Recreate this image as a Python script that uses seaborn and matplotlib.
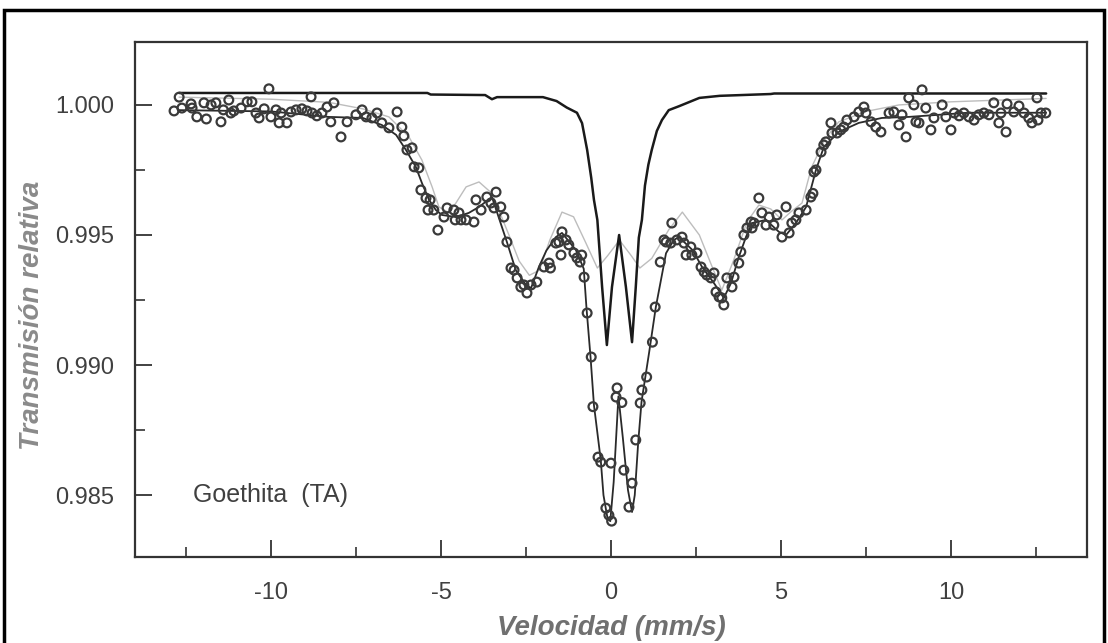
import numpy as np
import pandas as pd
import matplotlib
matplotlib.use("Agg")
import matplotlib.pyplot as plt
from matplotlib.patches import Rectangle
from matplotlib.ticker import MultipleLocator
import seaborn as sns

# Measured spectrum (velocity in mm/s, relative transmission)
vel_pts = [-12.85, -12.7, -12.62, -12.35, -12.32, -12.18, -11.97, -11.9, -11.76, -11.62,
           -11.47, -11.4, -11.24, -11.18, -11.09, -10.88, -10.7, -10.56, -10.44, -10.35,
           -10.2, -10.06, -10.0, -9.85, -9.76, -9.7, -9.53, -9.41, -9.26, -9.09,
           -8.94, -8.82, -8.79, -8.65, -8.5, -8.35, -8.24, -8.15, -7.94, -7.76,
           -7.5, -7.32, -7.2, -7.03, -6.88, -6.74, -6.53, -6.29, -6.15, -6.09,
           -6.0, -5.85, -5.79, -5.65, -5.59, -5.44, -5.38, -5.32, -5.21, -5.09,
           -4.91, -4.82, -4.62, -4.58, -4.47, -4.41, -4.26, -4.03, -3.97, -3.82,
           -3.65, -3.53, -3.44, -3.38, -3.24, -3.15, -3.06, -2.94, -2.85, -2.76,
           -2.65, -2.56, -2.47, -2.35, -2.18, -1.97, -1.82, -1.78, -1.62, -1.53,
           -1.47, -1.44, -1.32, -1.24, -1.09, -1.0, -0.91, -0.86, -0.79, -0.7,
           -0.58, -0.53, -0.38, -0.3, -0.15, -0.06, 0.0, 0.02, 0.15, 0.18,
           0.32, 0.38, 0.53, 0.62, 0.73, 0.86, 0.91, 1.05, 1.22, 1.3,
           1.45, 1.56, 1.62, 1.76, 1.79, 1.94, 2.09, 2.15, 2.21, 2.35,
           2.38, 2.53, 2.65, 2.74, 2.82, 2.94, 3.03, 3.09, 3.18, 3.26,
           3.32, 3.41, 3.56, 3.62, 3.76, 3.82, 3.91, 4.0, 4.12, 4.15,
           4.21, 4.35, 4.44, 4.56, 4.65, 4.79, 4.88, 5.03, 5.15, 5.24,
           5.32, 5.44, 5.53, 5.74, 5.88, 5.94, 5.97, 6.03, 6.18, 6.26,
           6.32, 6.47, 6.5, 6.65, 6.76, 6.85, 6.94, 7.15, 7.29, 7.44,
           7.5, 7.65, 7.79, 7.94, 8.18, 8.32, 8.47, 8.56, 8.68, 8.76,
           8.91, 8.97, 9.06, 9.15, 9.26, 9.41, 9.5, 9.74, 9.85, 10.0,
           10.1, 10.24, 10.38, 10.53, 10.68, 10.82, 10.97, 11.12, 11.26, 11.41,
           11.47, 11.62, 11.65, 11.85, 12.0, 12.15, 12.29, 12.38, 12.53, 12.56,
           12.65, 12.79]
trans_pts = [0.99977, 1.0003, 0.99988, 1.00004, 0.99988, 0.99954, 1.00008, 0.99946, 1.0, 1.00008,
             0.99935, 0.99981, 1.00019, 0.99969, 0.99977, 0.99988, 1.00012, 1.00012, 0.99969, 0.9995,
             0.99985, 1.00062, 0.99954, 0.99981, 0.99931, 0.99969, 0.99931, 0.99973, 0.99981, 0.99985,
             0.99977, 1.00031, 0.99969, 0.99958, 0.99969, 0.99992, 0.99935, 1.00008, 0.99877, 0.99935,
             0.99962, 0.99981, 0.99954, 0.9995, 0.99969, 0.99931, 0.99912, 0.99973, 0.99915, 0.99881,
             0.99827, 0.99835, 0.99762, 0.99758, 0.99673, 0.99642, 0.99596, 0.99635, 0.99596, 0.99519,
             0.99569, 0.99604, 0.99596, 0.99558, 0.99585, 0.99558, 0.99558, 0.9955, 0.99635, 0.99596,
             0.99646, 0.99623, 0.99604, 0.99665, 0.99608, 0.99569, 0.99473, 0.99373, 0.99365, 0.99335,
             0.993, 0.99308, 0.99277, 0.99308, 0.99319, 0.99377, 0.99392, 0.99373, 0.99469, 0.99473,
             0.99423, 0.99512, 0.99481, 0.99462, 0.99431, 0.99412, 0.99396, 0.99423, 0.99338, 0.992,
             0.99031, 0.9884, 0.98646, 0.98627, 0.9845, 0.98423, 0.98623, 0.9840, 0.98877, 0.98912,
             0.98856, 0.98596, 0.98454, 0.98546, 0.98712, 0.98854, 0.98904, 0.98954, 0.99088, 0.99223,
             0.99396, 0.99481, 0.99473, 0.99469, 0.99546, 0.99481, 0.99492, 0.99469, 0.99423, 0.99454,
             0.99423, 0.99431, 0.99377, 0.99358, 0.99346, 0.99335, 0.99354, 0.99281, 0.99262, 0.99258,
             0.99231, 0.99335, 0.993, 0.99338, 0.99392, 0.99435, 0.995, 0.99527, 0.9955, 0.99527,
             0.99546, 0.99642, 0.99585, 0.99538, 0.99569, 0.99538, 0.99577, 0.99492, 0.99608, 0.99508,
             0.99546, 0.99558, 0.99585, 0.99596, 0.99646, 0.9966, 0.99742, 0.9975, 0.99819, 0.99846,
             0.99858, 0.99931, 0.99892, 0.99892, 0.99904, 0.99915, 0.99942, 0.99954, 0.99973, 0.99992,
             0.99969, 0.99935, 0.99915, 0.99896, 0.99969, 0.99973, 0.99923, 0.99962, 0.99877, 1.00027,
             1.0, 0.99935, 0.99931, 1.00058, 0.99988, 0.99904, 0.9995, 1.0, 0.99954, 0.99904,
             0.99969, 0.99958, 0.99969, 0.99954, 0.99942, 0.99962, 0.99969, 0.99962, 1.00008, 0.99931,
             0.99969, 0.99896, 1.00004, 0.99973, 0.99996, 0.99969, 0.9995, 0.99931, 1.00027, 0.99942,
             0.99969, 0.99969]

# Total fitted spectrum
vel_fit = [-12.7, -10.0, -8.3, -7.3, -6.74, -6.32, -6.03, -5.74, -5.56, -5.35,
           -5.15, -4.97, -4.56, -4.18, -3.88, -3.5, -3.06, -2.8, -2.5, -2.35,
           -2.12, -1.9, -1.62, -1.44, -1.03, -0.8, -0.72, -0.6, -0.5, -0.3,
           -0.22, -0.1, -0.02, 0.08, 0.22, 0.35, 0.5, 0.62, 0.7, 0.8,
           0.9, 1.12, 1.32, 1.62, 1.85, 2.0, 2.4, 2.68, 3.03, 3.32,
           3.53, 3.76, 3.97, 4.15, 4.56, 4.94, 5.15, 5.44, 5.74, 6.03,
           6.26, 6.7, 7.29, 7.97, 8.76, 10.5, 12.8]
trans_fit = [0.9998, 0.99975, 0.99954, 0.9995, 0.99923, 0.99885, 0.99827, 0.99762, 0.997, 0.99635,
             0.99596, 0.99577, 0.99569, 0.99585, 0.99608, 0.99646, 0.99473, 0.99365, 0.99308, 0.99296,
             0.99377, 0.9944, 0.99492, 0.99508, 0.99442, 0.9937, 0.9922, 0.9903, 0.98846, 0.98635,
             0.9850, 0.9841, 0.9840, 0.9855, 0.9888, 0.9872, 0.9852, 0.98435, 0.9850, 0.9870,
             0.9886, 0.99046, 0.99223, 0.9943, 0.99481, 0.99492, 0.99442, 0.99377, 0.99315, 0.99258,
             0.99315, 0.99415, 0.99492, 0.99546, 0.99558, 0.99512, 0.995, 0.99546, 0.99608, 0.9975,
             0.99838, 0.99896, 0.99931, 0.9995, 0.99954, 0.9997, 0.9997]

# Component curve (light grey)
vel_comp = [-12.7, -10.0, -8.3, -7.3, -6.53, -5.94, -5.56, -5.26, -5.06, -4.76,
            -4.56, -4.26, -3.88, -3.5, -3.0, -2.7, -2.4, -2.1, -1.8, -1.44,
            -1.1, -0.74, -0.4, -0.1, 0.25, 0.6, 0.85, 1.2, 1.7, 2.1,
            2.6, 3.0, 3.26, 3.6, 4.0, 4.35, 4.7, 5.03, 5.3, 5.62,
            5.9, 6.3, 6.7, 7.5, 8.47, 10.0, 12.8]
trans_comp = [1.0003, 1.00022, 1.0001, 0.99985, 0.99954, 0.99877, 0.99788, 0.99685, 0.99608, 0.99585,
              0.99623, 0.99685, 0.99704, 0.9966, 0.9950, 0.9940, 0.99345, 0.99365, 0.9948, 0.99588,
              0.9957, 0.9947, 0.99373, 0.9942, 0.9948, 0.9942, 0.99373, 0.9941, 0.9952, 0.99588,
              0.9950, 0.9937, 0.99288, 0.9940, 0.9955, 0.99615, 0.9960, 0.99558, 0.9959, 0.99623,
              0.9976, 0.9987, 0.99935, 0.99975, 1.0, 1.00012, 1.00025]

# Paramagnetic doublet (black)
vel_dbl = [-12.7, -5.4, -5.3, -3.7, -3.5, -3.35, -2.0, -1.6, -1.3, -1.0,
           -0.85, -0.7, -0.58, -0.5, -0.4, -0.26, -0.12, 0.03, 0.24, 0.44,
           0.62, 0.73, 0.82, 0.91, 1.0, 1.1, 1.2, 1.35, 1.5, 1.7,
           2.0, 2.6, 3.2, 4.7, 4.8, 12.8]
trans_dbl = [1.00046, 1.00046, 1.0004, 1.00038, 1.00022, 1.0003, 1.0003, 1.00015, 0.9999, 0.9997,
             0.9993, 0.99827, 0.9972, 0.99635, 0.99558, 0.993, 0.99077, 0.993, 0.995, 0.993,
             0.99088, 0.993, 0.9949, 0.99558, 0.9969, 0.9977, 0.99827, 0.9990, 0.99942, 0.9998,
             0.99995, 1.00027, 1.00035, 1.00042, 1.00044, 1.00044]

x_ticks = [-10, -5, 0, 5, 10]
y_ticks = [0.985, 0.990, 0.995, 1.000]

sns.set_theme(style="white")
plt.rcParams["font.family"] = ["Liberation Sans", "DejaVu Sans"]

fig = plt.figure(figsize=(11.08, 6.43), dpi=100)
ax = fig.add_axes([0.1218, 0.1337, 0.8592, 0.801])

pts = pd.DataFrame({"v": vel_pts, "t": trans_pts})
fit = pd.DataFrame({"v": vel_fit, "t": trans_fit})
comp = pd.DataFrame({"v": vel_comp, "t": trans_comp})
dbl = pd.DataFrame({"v": vel_dbl, "t": trans_dbl})

sns.lineplot(data=comp, x="v", y="t", ax=ax, color="#bdbdbd", lw=1.0,
             estimator=None, sort=False, zorder=2)
sns.lineplot(data=dbl, x="v", y="t", ax=ax, color="#1a1a1a", lw=1.8,
             estimator=None, sort=False, zorder=3)
sns.lineplot(data=fit, x="v", y="t", ax=ax, color="#2a2a2a", lw=1.3,
             estimator=None, sort=False, zorder=3)
sns.scatterplot(data=pts, x="v", y="t", ax=ax, marker="o", s=40,
                facecolor="none", edgecolor="#3a3a3a", linewidth=1.6, zorder=4)

ax.set_xlim(-14, 14)
ax.set_ylim(0.98262, 1.00242)
ax.set_xticks(x_ticks)
ax.set_xticklabels([f"{t:g}" for t in x_ticks])
ax.set_yticks(y_ticks)
ax.set_yticklabels([f"{t:.3f}" for t in y_ticks])
ax.xaxis.set_minor_locator(MultipleLocator(2.5))
ax.yaxis.set_minor_locator(MultipleLocator(0.0025))

ax.tick_params(axis="both", which="major", direction="in", length=12, width=1.3,
               color="#333333", labelsize=17, labelcolor="#404040")
ax.tick_params(axis="x", which="major", pad=18)
ax.tick_params(axis="y", which="major", pad=15)
ax.tick_params(axis="both", which="minor", direction="in", length=7, width=1.2,
               color="#333333")
ax.tick_params(axis="x", which="both", bottom=True, top=False)
ax.tick_params(axis="y", which="both", left=True, right=False)

for sp in ax.spines.values():
    sp.set_visible(True)
    sp.set_color("#333333")
    sp.set_linewidth(1.6)

ax.set_xlabel("Velocidad (mm/s)", fontsize=20, fontstyle="italic", fontweight="bold",
              color="#707070", labelpad=8)
ax.set_ylabel("Transmisión relativa", fontsize=20, fontstyle="italic", fontweight="bold",
              color="#8a8a8a")
ax.yaxis.set_label_coords(-0.094, 0.47)

ax.text(-12.3, 0.9850, "Goethita  (TA)", fontsize=18, color="#404040",
        ha="left", va="center")

fig.patches.append(Rectangle((0.004, -0.05), 0.992, 1.035, transform=fig.transFigure,
                             fill=False, edgecolor="black", linewidth=2.5))

fig.savefig("out.png", dpi=100)
